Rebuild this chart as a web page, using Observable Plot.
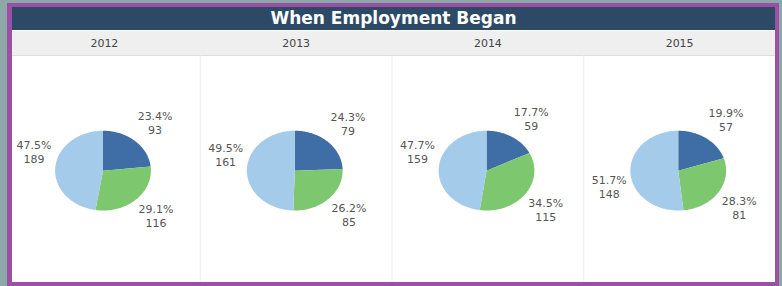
<!DOCTYPE html>
<html><head><meta charset="utf-8">
<script src="https://cdn.jsdelivr.net/npm/d3@7"></script>
<script src="https://cdn.jsdelivr.net/npm/@observablehq/plot@0.6"></script>
<style>
html,body{margin:0;padding:0;background:#8ea7a8;width:782px;height:286px;overflow:hidden;font-family:"DejaVu Sans",Verdana,sans-serif;}
#frame{position:absolute;left:7px;top:3px;width:763px;height:275px;border:4px solid #9b50a6;border-left-width:5px;background:#fff;}
#title{position:absolute;left:0;top:0;width:763px;height:23px;background:#2c4a66;color:#fff;font-weight:bold;font-size:17px;line-height:23px;text-align:center;}
#header{position:absolute;left:0;top:24px;width:763px;height:24px;background:#efefef;border-bottom:1px solid #dddddd;}
#chart{position:absolute;left:-4px;top:24px;}
</style></head><body>
<div id="frame"><div id="title">When Employment Began</div><div id="header"></div><div id="chart"></div></div>
<script>
// ---- data ----
const years = ["2012", "2013", "2014", "2015"];
const darkBlueCounts = [93, 79, 59, 57];     // first slice (12 o'clock, clockwise)
const greenCounts = [116, 85, 115, 81];      // second slice
const lightBlueCounts = [189, 161, 159, 148]; // third slice
const seriesKeys = ["dark", "green", "light"];
const seriesColors = ["#3f6ea6", "#7dc76f", "#a4cbea"];

// ---- layout (style) ----
const rx = 48, ry = 40;          // pie radii in px
const xDomain = [-94.75, 97.5];  // panel width 192.25 px, pie centre offset
const yDomain = [111.5, -115.5]; // 227 px tall, y grows downward

const canvas = document.createElement("canvas");
const ctx = canvas.getContext("2d");
ctx.font = "11px 'DejaVu Sans'";
const measure = t => ctx.measureText(t).width;

const arcPts = [];
const labels = [];
years.forEach((yr, i) => {
  const vals = [darkBlueCounts[i], greenCounts[i], lightBlueCounts[i]];
  const total = d3.sum(vals);
  let a0 = 0;
  vals.forEach((v, j) => {
    const a1 = a0 + v / total * 2 * Math.PI;
    const id = yr + "-" + j;
    const n = Math.max(2, Math.ceil((a1 - a0) / (Math.PI / 180)));
    arcPts.push({year: yr, series: seriesKeys[j], id, px: 0, py: 0});
    for (let k = 0; k <= n; k++) {
      const a = a0 + (a1 - a0) * k / n;
      arcPts.push({year: yr, series: seriesKeys[j], id, px: rx * Math.sin(a), py: -ry * Math.cos(a)});
    }
    arcPts.push({year: yr, series: seriesKeys[j], id, px: 0, py: 0});
    const m = (a0 + a1) / 2, s = Math.sin(m), c = Math.cos(m);
    const ax = 1.08 * rx * s, ay = -1.08 * ry * c;
    const pct = d3.format(".1%")(v / total);
    const cnt = String(v);
    const w = Math.max(measure(pct), measure(cnt));
    const lx = ax + (s >= 0 ? 1 : -1) * w / 2;
    const top = c >= 0 ? ay - 30 : ay;
    labels.push({year: yr, text: pct, lx, ly: top + 8});
    labels.push({year: yr, text: cnt, lx, ly: top + 22});
    a0 = a1;
  });
});

const chart = Plot.plot({
  width: 769, height: 251,
  marginTop: 24, marginBottom: 0, marginLeft: 0, marginRight: 0,
  fx: {domain: years, padding: 0, round: false, axis: "top", label: null, tickSize: 0, tickPadding: 8},
  x: {domain: xDomain, axis: null},
  y: {domain: yDomain, axis: null},
  color: {type: "ordinal", domain: seriesKeys, range: seriesColors},
  style: {background: "transparent", fontFamily: "DejaVu Sans", fontSize: "11px", color: "#444", overflow: "visible"},
  marks: [
    Plot.ruleX(years.slice(1), {fx: d => d, x: () => xDomain[0], stroke: "#ebebeb", strokeWidth: 1}),
    Plot.line(arcPts, {fx: "year", x: "px", y: "py", z: "id", fill: "series", stroke: "none"}),
    Plot.text(labels, {fx: "year", x: "lx", y: "ly", text: "text", fill: "#555", fontSize: 11})
  ]
});
document.getElementById("chart").appendChild(chart);
</script>
</body></html>
